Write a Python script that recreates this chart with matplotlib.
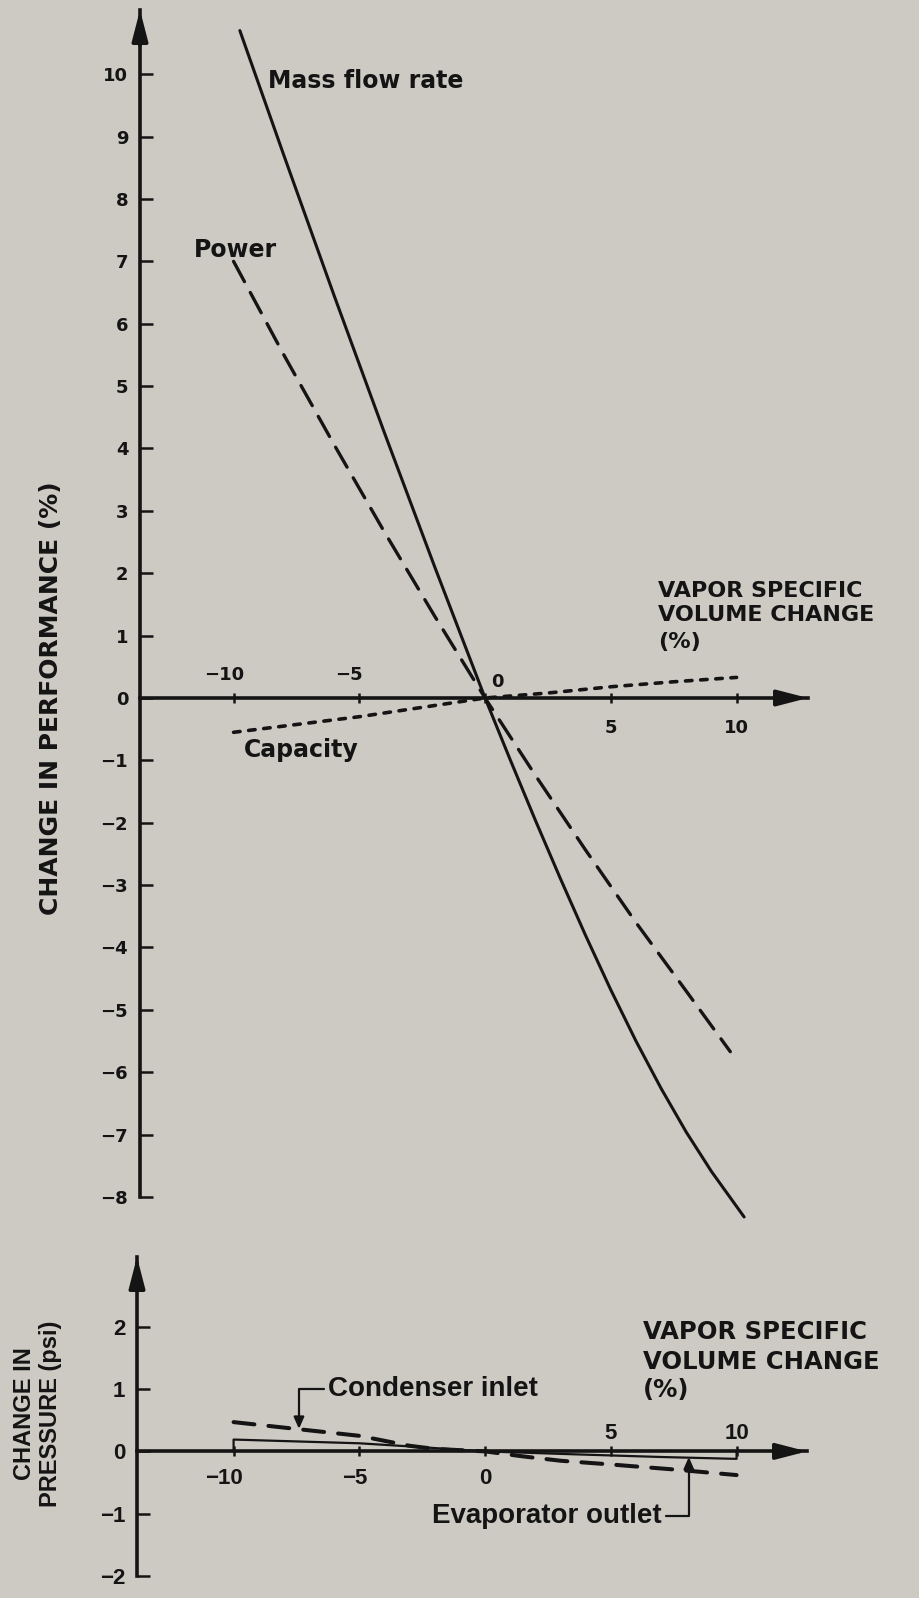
import matplotlib.pyplot as plt

W, H = 919, 1598
BG = '#cdcac4'
INK = '#141414'

# top panel: change in performance (%) vs vapor specific volume change (%)
mass_x = [-9.75, -8, -6, -4, -2, 0, 1, 2, 3, 4, 5, 6, 7, 8, 9, 10.3]
mass_y = [10.7, 8.7, 6.45, 4.25, 2.1, 0, -0.99, -1.96, -2.9, -3.81, -4.68, -5.5, -6.26,
          -6.96, -7.59, -8.32]
power_x = [-10, -8, -6, -4, -2, 0, 2, 4, 6, 8, 9.75]
power_y = [7.0, 5.5, 4.06, 2.66, 1.31, 0, -1.24, -2.44, -3.6, -4.7, -5.67]
cap_x = [-10, -5, 0, 2.5, 5, 7.5, 10]
cap_y = [-0.55, -0.3, 0, 0.08, 0.18, 0.26, 0.33]

# bottom panel: change in pressure (psi)
cond_x = [-10, -7.5, -5, -4, -3, -2, -1, 0, 1.5, 3, 5, 7.5, 10]
cond_y = [0.47, 0.36, 0.25, 0.17, 0.09, 0.04, 0.02, 0, -0.08, -0.15, -0.21, -0.29, -0.38]
evap_x = [-10, -10, -5, -3, 0, 3, 7, 10, 10]
evap_y = [0, 0.19, 0.13, 0.08, 0, -0.04, -0.09, -0.12, 0]

top_yticks = list(range(-8, 11))
bot_yticks = [-2, -1, 0, 1, 2]
xticks = [-10, -5, 0, 5, 10]
xlabel_lines = ['VAPOR SPECIFIC', 'VOLUME CHANGE', '(%)']

DJ = 'DejaVu Sans'
LIB = ['Liberation Sans', 'DejaVu Sans']


def minus(v):
    return str(v).replace('-', '\u2212')


def add_px_axes(fig, left, right, top, bottom):
    return fig.add_axes([left / W, 1 - bottom / H, (right - left) / W, (bottom - top) / H])


def ftext(fig, x, y, s, **kw):
    return fig.text(x / W, 1 - y / H, s, color=INK, fontweight='bold', **kw)


def style_axes(ax, yticks, fam, ysize):
    ax.set_facecolor('none')
    ax.spines['top'].set_visible(False)
    ax.spines['right'].set_visible(False)
    for s in ['left', 'bottom']:
        ax.spines[s].set_linewidth(2.6)
        ax.spines[s].set_color(INK)
    ax.spines['bottom'].set_position(('data', 0))
    ax.set_yticks(yticks, labels=[minus(v) for v in yticks],
                  fontfamily=fam, fontweight='bold', fontsize=ysize, color=INK)
    ax.set_xticks(xticks)
    ax.tick_params(axis='y', direction='in', length=9, width=1.8, pad=8.5, color=INK)
    ax.tick_params(axis='x', direction='inout', length=7, width=1.8, labelbottom=False, color=INK)
    x0, x1 = ax.get_xlim()
    y0, y1 = ax.get_ylim()
    head = dict(arrowstyle='-|>,head_length=0.85,head_width=0.22', lw=2.6, color=INK,
                shrinkA=0, shrinkB=0, mutation_scale=22)
    ax.annotate('', xy=(x1, 0), xytext=(x1 - 0.8, 0), arrowprops=head, annotation_clip=False)
    ax.annotate('', xy=(x0, y1), xytext=(x0, y1 - (y1 - y0) * 0.03), arrowprops=head,
                annotation_clip=False)


def tick_texts(ax, offsets, fam, size):
    for v, (dx, dy) in zip(xticks, offsets):
        ax.annotate(minus(v), xy=(v, 0), xytext=(dx, dy), textcoords='offset pixels',
                    ha='center', va='baseline', fontfamily=fam, fontweight='bold',
                    fontsize=size, color=INK, annotation_clip=False)


fig = plt.figure(figsize=(W / 100, H / 100), dpi=100, facecolor=BG)

# ---- top panel ----
ax = add_px_axes(fig, 140, 808, 10, 1197)
ax.set_xlim(-13.72, 12.84)
ax.set_ylim(-8.0, 11.03)
style_axes(ax, top_yticks, DJ, 13)
tick_texts(ax, [(-9, 18), (-10, 18), (12, 11), (0, -35), (0, -35)], DJ, 13)

ax.plot(mass_x, mass_y, color=INK, lw=2.2, clip_on=False, solid_capstyle='round',
        solid_joinstyle='round')
ax.plot(power_x, power_y, color=INK, lw=2.4, linestyle=(0, (6.9, 3.7)),
        dash_capstyle='round', clip_on=False)
ax.plot(cap_x, cap_y, color=INK, lw=2.6, linestyle=(0, (1.8, 2.4)),
        dash_capstyle='round', clip_on=False)

ftext(fig, 268, 88, 'Mass flow rate', fontsize=17, family=DJ, va='baseline')
ftext(fig, 194, 257, 'Power', fontsize=17, family=DJ, va='baseline')
ftext(fig, 244, 757, 'Capacity', fontsize=17, family=DJ, va='baseline')
for line, yb in zip(xlabel_lines, [597, 621, 648]):
    ftext(fig, 658, yb, line, fontsize=16, family=DJ, va='baseline')
ftext(fig, 51, 698, 'CHANGE IN PERFORMANCE (%)', fontsize=18, family=DJ,
      rotation=90, ha='center', va='center')

# ---- bottom panel ----
bx = add_px_axes(fig, 137, 807, 1257, 1576)
bx.set_xlim(-13.84, 12.80)
bx.set_ylim(-2.0, 3.12)
style_axes(bx, bot_yticks, LIB, 16)
tick_texts(bx, [(-10, -33), (-5, -33), (0, -33), (0, 12), (0, 12)], LIB, 16)

bx.plot(cond_x, cond_y, color=INK, lw=2.9, linestyle=(0, (5.2, 3.5)),
        dash_capstyle='round', clip_on=False)
bx.plot(evap_x, evap_y, color=INK, lw=1.6, clip_on=False)

lead = dict(arrowstyle='-|>,head_length=0.5,head_width=0.22', connectionstyle='angle,angleA=0,angleB=90,rad=0',
            lw=1.6, color=INK, shrinkA=1, shrinkB=0, mutation_scale=14)
bx.annotate('Condenser inlet', xy=(-7.4, 0.36), xytext=(328 / W, 1 - 1389 / H),
            textcoords='figure fraction', ha='left', va='center', fontsize=20,
            fontfamily=LIB, fontweight='bold', color=INK,
            arrowprops=dict(lead, relpos=(0, 0.5)))
bx.annotate('Evaporator outlet', xy=(8.1, -0.09), xytext=(662 / W, 1 - 1516 / H),
            textcoords='figure fraction', ha='right', va='center', fontsize=20,
            fontfamily=LIB, fontweight='bold', color=INK,
            arrowprops=dict(lead, relpos=(1, 0.5)))

for line, yb in zip(xlabel_lines, [1339, 1369, 1397]):
    ftext(fig, 643, yb, line, fontsize=17.5, family=DJ, va='baseline')
ftext(fig, 25, 1414, 'CHANGE IN', fontsize=17, family=LIB, rotation=90, ha='center', va='center')
ftext(fig, 51, 1414, 'PRESSURE (psi)', fontsize=17, family=LIB, rotation=90, ha='center', va='center')

fig.savefig('out.png', dpi=100, facecolor=BG)
